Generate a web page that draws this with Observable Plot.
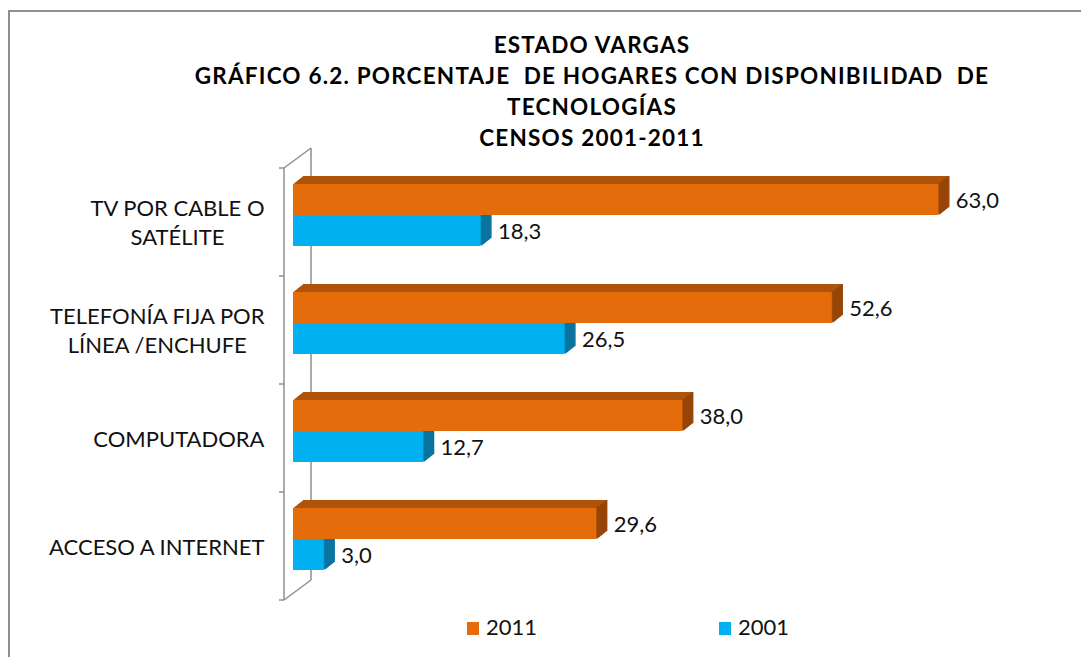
<!DOCTYPE html>
<html><head><meta charset="utf-8">
<script src="https://cdn.jsdelivr.net/npm/d3@7"></script>
<script src="https://cdn.jsdelivr.net/npm/@observablehq/plot@0.6"></script>
<style>
html,body{margin:0;background:#fff;overflow:hidden;}
#wrap{position:relative;width:1081px;height:657px;overflow:hidden;font-family:Lato, "Open Sans", sans-serif;color:#000;}
#frame{position:absolute;left:8px;top:10px;width:1300px;height:900px;border-left:2px solid #8e8e8e;border-top:2px solid #8e8e8e;box-sizing:border-box;}
#title{position:absolute;left:92px;width:1000px;top:29px;text-align:center;font-weight:bold;font-size:22.5px;letter-spacing:1.2px;line-height:31px;white-space:pre;}
#plot{position:absolute;left:0;top:0;}
.li{position:absolute;top:614px;font-size:22px;line-height:26px;white-space:nowrap;color:#111;}
.sw{display:inline-block;width:12px;height:13px;margin-right:7px;vertical-align:0px;}
</style></head>
<body><div id="wrap"><div id="frame"></div><div id="plot"></div><div id="title"></div><div id="legend"></div></div>
<script>
const titleLines = ["ESTADO VARGAS", "GRÁFICO 6.2. PORCENTAJE  DE HOGARES CON DISPONIBILIDAD  DE", "TECNOLOGÍAS", "CENSOS 2001-2011"];
const categories = ["TV POR CABLE O SATÉLITE", "TELEFONÍA FIJA POR LÍNEA /ENCHUFE", "COMPUTADORA", "ACCESO A INTERNET"];
const categoryLabels = ["TV POR CABLE O\nSATÉLITE", "TELEFONÍA FIJA POR\nLÍNEA /ENCHUFE", "COMPUTADORA", "ACCESO A INTERNET"];
const series = ["2011", "2001"];
const values2011 = [63.0, 52.6, 38.0, 29.6];
const values2001 = [18.3, 26.5, 12.7, 3.0];
const frontColors = ["#E46C0A", "#00B0F0"];
const topColors = ["#B0530A", "#0090C4"];
const sideColors = ["#974507", "#0A74A0"];
const legendLeft = [467, 719];

document.getElementById("title").textContent = titleLines.join("\n");

const seriesValues = {"2011": values2011, "2001": values2001};
const rows = categories.flatMap((c, i) => series.map(s => ({category: c, series: s, value: seriesValues[s][i]})));
const fmt = v => v.toFixed(1).replace(".", ",");

const depthX = 10, depthY = -8, nSteps = 12;
const marks = [];
series.forEach((s, si) => {
  const rs = rows.filter(d => d.series === s);
  for (let k = 1; k <= nSteps; k++) {
    marks.push(Plot.barX(rs, {x: "value", y: "series", fy: "category", fill: topColors[si], dx: k * depthX / nSteps, dy: k * depthY / nSteps}));
  }
  for (let k = 1; k <= nSteps; k++) {
    marks.push(Plot.tickX(rs, {x: "value", y: "series", fy: "category", stroke: sideColors[si], strokeWidth: 1.4, dx: k * depthX / nSteps, dy: k * depthY / nSteps}));
  }
});
marks.push(Plot.barX(rows, {x: "value", y: "series", fy: "category", fill: "series"}));
marks.push(Plot.text(rows, {x: "value", y: "series", fy: "category", text: d => fmt(d.value), textAnchor: "start", dx: 17, dy: 1, fontSize: 22, fill: "#111"}));
marks.push(Plot.text(categories, {fy: d => d, frameAnchor: "left", text: (d, i) => categoryLabels[i], textAnchor: "end", dx: -29, dy: 6, lineHeight: 1.32, fontSize: 22, fill: "#111"}));

const plot = Plot.plot({
  width: 1081,
  height: 657,
  marginLeft: 293,
  marginRight: 71,
  marginTop: 183,
  marginBottom: 87,
  style: {fontFamily: "Lato, 'Open Sans', sans-serif", background: "transparent"},
  x: {domain: [0, 70], axis: null},
  y: {domain: series, padding: 0, axis: null},
  fy: {domain: categories, paddingInner: 0.4275, paddingOuter: 0, axis: null, label: null},
  color: {domain: series, range: frontColors},
  marks
});
document.getElementById("plot").appendChild(plot);

// category label centering (lines centered, block right-aligned)
const labelSet = new Set(categoryLabels.filter(l => l.includes("\n")).map(l => l.replace("\n", "")));
plot.querySelectorAll("text").forEach(t => {
  if (!labelSet.has(t.textContent)) return;
  const tsp = t.querySelectorAll("tspan");
  const w = d3.max(Array.from(tsp), s => s.getComputedTextLength());
  t.setAttribute("text-anchor", "middle");
  t.setAttribute("transform", (t.getAttribute("transform") || "") + ` translate(${-w / 2},0)`);
});

// 3D wall drawn from the plot's scales
const xs = plot.scale("x"), fys = plot.scale("fy");
const gap = (fys.step - fys.bandwidth) / 2;
const bounds = categories.map(c => fys.apply(c) - gap);
bounds.push(fys.apply(categories[categories.length - 1]) + fys.bandwidth + gap);
const x0 = xs.apply(0);
const front = {dx: -9, dy: 7}, back = {dx: 18, dy: -13};
const wallTop = bounds[0], wallBot = bounds[bounds.length - 1];
const wall = d3.select(plot).insert("g", ":first-child").attr("fill", "none").attr("stroke", "#8f8f8f").attr("stroke-width", 1.5);
const seg = (a, b) => wall.append("line").attr("x1", a[0]).attr("y1", a[1]).attr("x2", b[0]).attr("y2", b[1]);
seg([x0 + front.dx, wallTop + front.dy], [x0 + front.dx, wallBot + front.dy]);
seg([x0 + back.dx, wallTop + back.dy], [x0 + back.dx, wallBot + back.dy]);
seg([x0 + front.dx, wallTop + front.dy], [x0 + back.dx, wallTop + back.dy]);
seg([x0 + front.dx, wallBot + front.dy], [x0 + back.dx, wallBot + back.dy]);
bounds.forEach(b => seg([x0 + front.dx - 5, b + front.dy], [x0 + front.dx, b + front.dy]));

// legend
const leg = d3.select("#legend");
series.forEach((s, i) => {
  const item = leg.append("div").attr("class", "li").style("left", legendLeft[i] + "px");
  item.append("span").attr("class", "sw").style("background", plot.scale("color").apply(s));
  item.append("span").text(s);
});
</script>
</body></html>
